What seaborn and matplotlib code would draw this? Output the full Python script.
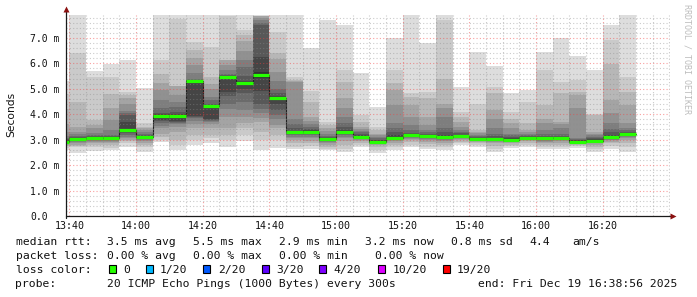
import matplotlib
matplotlib.use('Agg')
import matplotlib.pyplot as plt
from matplotlib.patches import Rectangle
import numpy as np
import seaborn as sns

# ---------------- data ----------------
# start of each 5-minute sample, minutes after 13:40
start_min = list(range(-5, 170, 5))
# median RTT per sample (ms)
median_ms = [2.92, 3.03, 3.07, 3.05, 3.37, 3.10, 3.94, 3.94, 5.31, 4.34,
             5.46, 5.23, 5.54, 4.62, 3.29, 3.32, 3.01, 3.30, 3.12, 2.92,
             3.07, 3.18, 3.14, 3.11, 3.15, 3.02, 3.02, 2.99, 3.07, 3.05,
             3.05, 2.92, 2.96, 3.09, 3.23]
# sorted pings 1..10 (low half) per sample (ms)
pings_low = [
    [2.60, 2.68, 2.75, 2.80, 2.83, 2.86, 2.88, 2.90, 2.91, 2.92],
    [2.48, 2.72, 2.75, 2.81, 2.86, 2.90, 2.94, 2.97, 3.00, 3.02],
    [2.56, 2.70, 2.78, 2.85, 2.90, 2.95, 2.99, 3.02, 3.04, 3.06],
    [2.59, 2.68, 2.79, 2.86, 2.91, 2.95, 2.98, 3.00, 3.02, 3.04],
    [2.72, 2.85, 2.95, 3.00, 3.07, 3.12, 3.20, 3.25, 3.30, 3.34],
    [2.52, 2.72, 2.80, 2.88, 2.93, 2.98, 3.02, 3.05, 3.07, 3.09],
    [2.92, 3.00, 3.10, 3.24, 3.44, 3.55, 3.65, 3.72, 3.77, 3.93],
    [2.59, 2.79, 2.98, 3.31, 3.51, 3.60, 3.66, 3.70, 3.75, 3.93],
    [2.80, 2.98, 3.18, 3.44, 3.60, 3.75, 3.84, 3.88, 3.92, 5.30],
    [2.85, 3.05, 3.18, 3.44, 3.60, 3.68, 3.73, 3.77, 3.80, 4.32],
    [2.72, 2.98, 3.20, 3.44, 3.90, 4.20, 4.42, 4.70, 4.88, 5.44],
    [2.95, 3.18, 3.44, 3.64, 3.90, 4.16, 4.50, 4.82, 5.00, 5.21],
    [2.59, 2.98, 3.30, 3.70, 3.85, 4.03, 4.20, 4.42, 4.90, 5.41],
    [2.66, 3.00, 3.20, 3.44, 3.57, 3.80, 3.96, 4.16, 4.40, 4.60],
    [2.65, 2.72, 2.85, 3.00, 3.05, 3.12, 3.18, 3.22, 3.25, 3.27],
    [2.65, 2.75, 2.85, 2.95, 3.05, 3.12, 3.18, 3.22, 3.26, 3.30],
    [2.59, 2.65, 2.72, 2.80, 2.86, 2.90, 2.94, 2.96, 2.98, 3.00],
    [2.52, 2.65, 2.80, 2.95, 3.05, 3.12, 3.18, 3.22, 3.26, 3.28],
    [2.72, 2.80, 2.88, 2.94, 2.98, 3.02, 3.05, 3.08, 3.10, 3.11],
    [2.46, 2.60, 2.72, 2.78, 2.82, 2.85, 2.87, 2.89, 2.90, 2.91],
    [2.59, 2.72, 2.80, 2.88, 2.93, 2.97, 3.00, 3.02, 3.04, 3.05],
    [2.72, 2.80, 2.90, 2.98, 3.03, 3.08, 3.11, 3.13, 3.15, 3.17],
    [2.62, 2.72, 2.82, 2.90, 2.97, 3.02, 3.06, 3.09, 3.11, 3.13],
    [2.59, 2.70, 2.79, 2.88, 2.95, 3.00, 3.04, 3.07, 3.09, 3.10],
    [2.79, 2.86, 2.92, 2.97, 3.02, 3.06, 3.09, 3.11, 3.13, 3.14],
    [2.72, 2.79, 2.85, 2.90, 2.94, 2.97, 2.99, 3.00, 3.01, 3.02],
    [2.52, 2.65, 2.76, 2.85, 2.90, 2.94, 2.97, 2.99, 3.00, 3.01],
    [2.68, 2.75, 2.80, 2.85, 2.89, 2.92, 2.94, 2.96, 2.97, 2.98],
    [2.72, 2.80, 2.88, 2.93, 2.97, 3.00, 3.02, 3.04, 3.05, 3.06],
    [2.63, 2.72, 2.80, 2.87, 2.92, 2.96, 2.99, 3.01, 3.03, 3.04],
    [2.62, 2.72, 2.80, 2.88, 2.93, 2.97, 3.00, 3.02, 3.03, 3.04],
    [2.68, 2.75, 2.80, 2.84, 2.86, 2.88, 2.89, 2.90, 2.91, 2.91],
    [2.52, 2.62, 2.72, 2.80, 2.85, 2.89, 2.91, 2.93, 2.94, 2.95],
    [2.65, 2.75, 2.85, 2.92, 2.97, 3.00, 3.03, 3.05, 3.07, 3.08],
    [2.52, 2.70, 2.85, 2.97, 3.05, 3.10, 3.15, 3.18, 3.20, 3.22],
]
# sorted pings 11..20 (high half) per sample (ms)
pings_high = [
    [2.95, 2.98, 3.02, 3.08, 3.15, 3.30, 3.60, 4.20, 4.80, 5.30],
    [3.05, 3.08, 3.12, 3.16, 3.22, 3.31, 3.51, 4.49, 6.39, 7.89],
    [3.08, 3.11, 3.15, 3.20, 3.28, 3.44, 3.57, 3.77, 5.47, 5.69],
    [3.07, 3.10, 3.14, 3.18, 3.38, 3.77, 4.23, 4.81, 5.46, 5.97],
    [3.42, 3.70, 3.96, 4.05, 4.12, 4.39, 4.62, 4.75, 4.87, 6.12],
    [3.11, 3.14, 3.18, 3.24, 3.30, 3.38, 3.45, 3.51, 3.64, 5.04],
    [3.96, 4.00, 4.03, 4.23, 4.55, 4.95, 5.21, 5.60, 6.12, 7.89],
    [3.96, 4.00, 4.10, 4.29, 4.50, 4.75, 5.10, 5.12, 7.75, 7.89],
    [5.32, 5.34, 5.36, 5.40, 5.62, 5.95, 6.20, 6.52, 6.84, 7.89],
    [4.36, 4.38, 4.42, 4.55, 4.68, 5.01, 5.20, 5.47, 6.65, 7.89],
    [5.48, 5.50, 5.55, 5.60, 5.73, 5.93, 6.12, 6.13, 7.85, 7.89],
    [5.25, 5.30, 5.50, 5.85, 6.15, 6.50, 6.87, 7.10, 7.30, 7.89],
    [5.67, 6.25, 7.50, 7.60, 7.70, 7.80, 7.85, 7.87, 7.88, 7.89],
    [4.64, 4.70, 4.85, 5.01, 5.30, 5.67, 6.19, 6.39, 7.23, 7.89],
    [3.31, 3.34, 3.44, 3.60, 3.83, 5.27, 5.30, 5.35, 5.47, 7.89],
    [3.34, 3.37, 3.42, 3.50, 3.60, 3.75, 3.90, 4.50, 4.90, 6.60],
    [3.03, 3.06, 3.10, 3.14, 3.24, 3.33, 3.45, 3.57, 3.70, 7.69],
    [3.32, 3.38, 3.50, 3.64, 3.90, 4.23, 4.62, 5.27, 5.73, 7.50],
    [3.14, 3.18, 3.24, 3.30, 3.35, 3.42, 3.50, 3.70, 3.96, 5.62],
    [2.94, 2.97, 3.00, 3.05, 3.10, 3.17, 3.24, 3.38, 3.51, 4.29],
    [3.10, 3.20, 3.30, 3.45, 3.64, 4.36, 4.95, 5.21, 5.73, 7.01],
    [3.20, 3.23, 3.28, 3.38, 3.57, 3.90, 4.36, 4.69, 4.82, 7.89],
    [3.16, 3.19, 3.24, 3.30, 3.38, 3.57, 3.90, 4.62, 4.88, 6.78],
    [3.13, 3.18, 3.30, 3.44, 3.90, 4.23, 4.42, 5.40, 7.69, 7.89],
    [3.17, 3.20, 3.25, 3.30, 3.38, 3.50, 3.70, 3.90, 4.09, 5.08],
    [3.04, 3.07, 3.10, 3.14, 3.20, 3.25, 3.30, 3.38, 4.42, 6.45],
    [3.04, 3.08, 3.14, 3.24, 3.44, 3.80, 4.16, 4.82, 5.08, 5.89],
    [3.01, 3.05, 3.10, 3.17, 3.24, 3.44, 3.64, 3.83, 4.09, 4.85],
    [3.09, 3.12, 3.16, 3.20, 3.24, 3.32, 3.38, 3.64, 4.49, 4.95],
    [3.07, 3.10, 3.15, 3.24, 3.38, 3.64, 3.83, 4.36, 5.73, 6.45],
    [3.07, 3.10, 3.16, 3.24, 3.45, 3.60, 3.70, 4.82, 5.27, 7.01],
    [2.94, 2.97, 3.00, 3.02, 3.05, 4.23, 4.75, 4.88, 5.34, 6.29],
    [2.98, 3.01, 3.05, 3.10, 3.17, 3.24, 3.30, 3.96, 4.00, 5.73],
    [3.12, 3.20, 3.30, 3.40, 3.64, 4.03, 4.55, 5.99, 6.91, 7.50],
    [3.25, 3.28, 3.32, 3.38, 3.45, 3.64, 4.36, 4.88, 5.47, 7.89],
]
x_tick_min = [0, 20, 40, 60, 80, 100, 120, 140, 160]
x_tick_labels = ["13:40", "14:00", "14:20", "14:40", "15:00", "15:20", "15:40", "16:00", "16:20"]
y_tick_vals = [0, 1, 2, 3, 4, 5, 6, 7]
y_tick_labels = ["0.0", "1.0 m", "2.0 m", "3.0 m", "4.0 m", "5.0 m", "6.0 m", "7.0 m"]
loss_labels = ["0", "1/20", "2/20", "3/20", "4/20", "10/20", "19/20"]
loss_colors = ["#26ff00", "#00b8ff", "#0059ff", "#5e00ff", "#7e00ff", "#dd00ff", "#ff0000"]

# ---------------- figure ----------------
W, H = 697, 297
sns.set_theme(style="white")
plt.rcParams['font.family'] = ['DejaVu Sans Mono', 'DejaVu Sans']

fig = plt.figure(figsize=(W / 100, H / 100), dpi=100)
fig.patch.set_facecolor('white')
ax = fig.add_axes([66 / W, 81 / H, 604 / W, 201 / H])
ax.set_facecolor('white')

starts = np.array(start_min, dtype=float)
pings = np.hstack([np.array(pings_low), np.array(pings_high)])
n = pings.shape[1]
half = n // 2
for k in range(half):
    lo = pings[:, k]
    hi = pings[:, n - 1 - k]
    g = int(190 / half * (half - (k + 1))) + 50
    col = '#%02x%02x%02x' % (g, g, g)
    ax.bar(starts, hi - lo, bottom=lo, width=5, align='edge', color=col,
           linewidth=0, antialiased=False, zorder=1 + k * 0.01)

# dark median step line
xs = np.append(starts, starts[-1] + 5)
ys = np.append(median_ms, median_ms[-1])
sns.lineplot(x=xs, y=ys, drawstyle='steps-post', color='#202020', lw=0.8,
             ax=ax, estimator=None, zorder=2.2)
# green (0 loss) median segments
ax.hlines(median_ms, starts, starts + 5, colors='#26ff00', lw=2.3, zorder=4)

ax.set_xlim(-0.99, 180.2)
ax.set_ylim(0, 7.9)

ax.set_xticks(x_tick_min)
ax.set_xticklabels(x_tick_labels)
ax.set_xticks(np.arange(0, 181, 5), minor=True)
ax.set_yticks(y_tick_vals)
ax.set_yticklabels(y_tick_labels)
ax.set_yticks(np.arange(0, 7.9, 0.2), minor=True)

ax.set_axisbelow(False)
ax.grid(which='minor', color=(0.55, 0.55, 0.55), alpha=0.45, linestyle=(0, (1, 2)), linewidth=0.8)
ax.grid(which='major', color=(0.95, 0.25, 0.25), alpha=0.5, linestyle=(0, (1, 2)), linewidth=0.8)

ax.tick_params(axis='x', which='major', length=1.8, width=0.72, color='#ff8080',
               direction='out', pad=1.8, labelsize=7.2, labelcolor='#111111')
ax.tick_params(axis='x', which='minor', length=1.2, width=0.72, color='#c0c0c0', direction='out')
ax.tick_params(axis='y', which='both', length=0, pad=25.9, labelsize=7.0, labelcolor='#111111')
for lab in ax.get_yticklabels():
    lab.set_horizontalalignment('left')

for s in ['top', 'right', 'left', 'bottom']:
    ax.spines[s].set_visible(False)
# axis lines with arrows
ax.plot([0, 1.001], [0, 0], transform=ax.transAxes, color='#1a1a1a', lw=0.9, clip_on=False, zorder=6)
ax.plot([0, 0], [-0.012, 1.025], transform=ax.transAxes, color='#1a1a1a', lw=0.9, clip_on=False, zorder=6)
ax.plot([1.0055], [0], transform=ax.transAxes, marker='>', ms=4.2, color='#8b1010', clip_on=False, zorder=7, mec='none')
ax.plot([0], [1.03], transform=ax.transAxes, marker='^', ms=4.2, color='#8b1010', clip_on=False, zorder=7, mec='none')

# y label
fig.text(11 / W, 1 - 114 / H, 'Seconds', rotation=90, ha='center', va='center',
         family='DejaVu Sans', fontsize=7.7, color='#111111')
# watermark
fig.text(687 / W, 1 - 4 / H, 'RRDTOOL / TOBI OETIKER', rotation=-90, ha='center', va='top',
         fontsize=6.0, color='#bdbdbd')

# ---------------- legend text ----------------
FS = 8.2
def ftext(x, yb, s):
    fig.text(x / W, 1 - yb / H, s, ha='left', va='baseline', fontsize=FS,
             family='DejaVu Sans Mono', color='#111111')

r1, r2, r3, r4 = 245.3, 259.3, 273.2, 287.0
ftext(15.5, r1, 'median rtt:')
ftext(107, r1, '3.5 ms avg')
ftext(193, r1, '5.5 ms max')
ftext(279, r1, '2.9 ms min')
ftext(365, r1, '3.2 ms now')
ftext(451, r1, '0.8 ms sd')
ftext(529.5, r1, '4.4')
ftext(572, r1, 'am/s')

ftext(15.5, r2, 'packet loss:')
ftext(107, r2, '0.00 % avg')
ftext(193, r2, '0.00 % max')
ftext(279, r2, '0.00 % min')
ftext(374.5, r2, '0.00 % now')

ftext(15.5, r3, 'loss color:')
sq_x = [108.5, 145.7, 203.3, 261.7, 319.3, 378.0, 442.7]
lab_x = [123.0, 160.0, 218.0, 276.0, 333.0, 392.5, 457.0]
for sx, lx, c, l in zip(sq_x, lab_x, loss_colors, loss_labels):
    fig.add_artist(Rectangle((sx / W, 1 - 273 / H), 7 / W, 8 / H, transform=fig.transFigure,
                             facecolor=c, edgecolor='black', lw=0.8))
    ftext(lx, r3, l)

ftext(15.5, r4, 'probe:')
ftext(107, r4, '20 ICMP Echo Pings (1000 Bytes) every 300s')
ftext(478.5, r4, 'end: Fri Dec 19 16:38:56 2025')

fig.savefig('out.png', dpi=100, facecolor='white')
